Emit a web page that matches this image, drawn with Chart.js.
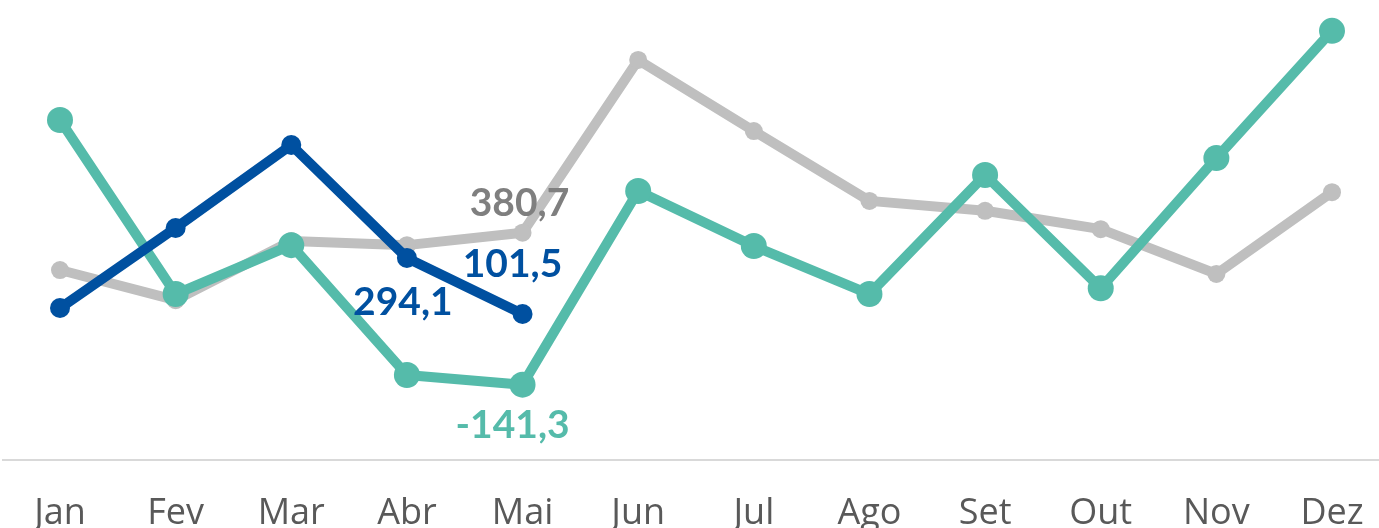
<!DOCTYPE html>
<html>
<head>
<meta charset="utf-8">
<script src="https://cdn.jsdelivr.net/npm/chart.js@4"></script>
<style>
  html, body { margin: 0; padding: 0; background: #fff; overflow: hidden; }
  #wrap { width: 1379px; height: 560px; position: relative; }
</style>
</head>
<body>
<div id="wrap"><canvas id="grafico"></canvas></div>
<script>
const meses = ["Jan", "Fev", "Mar", "Abr", "Mai", "Jun", "Jul", "Ago", "Set", "Out", "Nov", "Dez"];
const anoAnterior = [252.5, 149, 352, 338, 380.7, 974, 730, 490, 456, 393, 239, 520];
const metaAno = [768, 170, 338, -108, -141.3, 524, 335, 170, 579, 190, 637, 1074];
const anoAtual = [122, 397, 682, 294.1, 101.5];

const CINZA = "#BFBFBF";
const VERDE = "#55BBAA";
const AZUL = "#0050A0";

// rotulos de dados: [dataset, indice, dx, dy (linha de base), cor]
const rotulos = [
  [0, 4, -3, -17, "#7F7F7F"],
  [2, 3, -4, 57, AZUL],
  [2, 4, -10, -37, AZUL],
  [1, 4, -10, 53, VERDE],
];

const fmt = (v) => v.toFixed(1).replace(".", ",");

const linhaBase = {
  id: "linhaBase",
  beforeDatasetsDraw(chart) {
    const c = chart.ctx;
    const y = chart.chartArea.bottom;
    c.save();
    c.strokeStyle = "#D9D9D9";
    c.lineWidth = 2;
    c.beginPath();
    c.moveTo(2, y);
    c.lineTo(chart.width, y);
    c.stroke();
    c.restore();
  },
};

const rotulosPlugin = {
  id: "rotulos",
  afterDatasetsDraw(chart) {
    const c = chart.ctx;
    c.save();
    c.font = "bold 39px Lato";
    c.textAlign = "center";
    c.textBaseline = "alphabetic";
    rotulos.forEach(([ds, i, dx, dy, cor]) => {
      const p = chart.getDatasetMeta(ds).data[i];
      const v = chart.data.datasets[ds].data[i];
      c.fillStyle = cor;
      c.fillText(fmt(v), p.x + dx, p.y + dy);
    });
    c.restore();
  },
};

function serie(label, data, cor, raio, ordem) {
  return {
    label,
    data,
    borderColor: cor,
    backgroundColor: cor,
    pointBackgroundColor: cor,
    pointBorderWidth: 0,
    borderWidth: 10,
    pointRadius: raio,
    pointHoverRadius: raio,
    borderJoinStyle: "round",
    borderCapStyle: "round",
    tension: 0,
    clip: false,
    order: ordem,
  };
}

new Chart(document.getElementById("grafico"), {
  type: "line",
  data: {
    labels: meses,
    datasets: [
      serie("Ano anterior", anoAnterior, CINZA, 9, 3),
      serie("Meta", metaAno, VERDE, 13, 2),
      serie("Ano atual", anoAtual, AZUL, 10, 1),
    ],
  },
  options: {
    responsive: true,
    maintainAspectRatio: false,
    animation: false,
    layout: { autoPadding: false, padding: { left: 60, right: 47, top: 0, bottom: 0 } },
    plugins: {
      legend: { display: false },
      tooltip: { enabled: false },
    },
    scales: {
      x: {
        offset: false,
        grid: { display: false, drawTicks: false },
        border: { display: false },
        ticks: {
          color: "#595959",
          font: { family: "'Open Sans'", size: 36 },
          padding: 32,
          maxRotation: 0,
          autoSkip: false,
        },
        afterFit(scale) {
          scale.height = 100;
          scale.paddingLeft = 0;
          scale.paddingRight = 0;
        },
      },
      y: {
        display: false,
        min: -400,
        max: 1180,
      },
    },
  },
  plugins: [linhaBase, rotulosPlugin],
});
</script>
</body>
</html>
